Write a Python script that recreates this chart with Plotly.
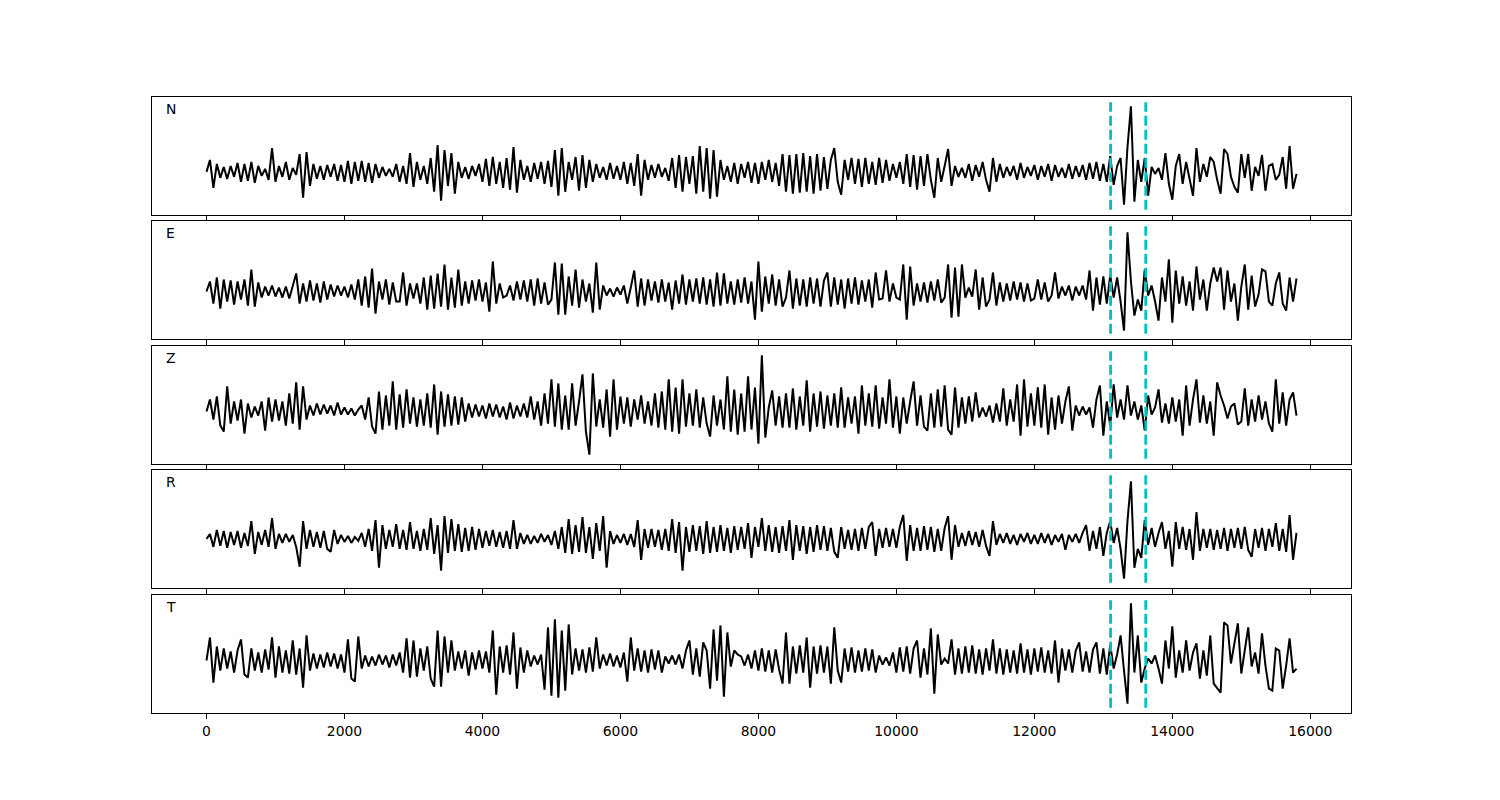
import numpy as np
import plotly.graph_objects as go

# ---------------- data ----------------
DT = 50  # sample spacing (x units)
COMPONENTS = ["N", "E", "Z", "R", "T"]

TRACE_N = [
    0, 12, -16, 8, -6, 5, -7, 6, -5, 9, -10, 8, -9, 10, -11, 6, -4, 3, -8, 24,
    -10, 6, -5, 10, -8, 4, -3, 18, -26, 20, -14, 8, -7, 6, -8, 7, -5, 8, -9, 7,
    -10, 11, -12, 10, -9, 11, -10, 9, -11, 8, -6, 5, -4, 3, -5, 8, -10, 6, -12, 19,
    -15, 10, -8, 6, -12, 14, -20, 27, -29, 22, -14, 19, -22, 10, -6, 5, -7, 6, -4, 8,
    -10, 13, -14, 15, -12, 10, -16, 14, -18, 25, -21, 12, -8, 6, -10, 9, -7, 10, -12, 11,
    -15, 22, -24, 24, -20, 10, -8, 15, -19, 17, -16, 12, -10, 8, -6, 5, -8, 9, -7, 6,
    -8, 10, -12, 9, -14, 18, -24, 12, -8, 7, -6, 8, -5, 4, -9, 14, -16, 17, -20, 15,
    -12, 16, -22, 26, -20, 24, -27, 22, -25, 12, -8, 6, -10, 9, -12, 8, -6, 10, -11, 9,
    -12, 10, -8, 12, -10, 9, -14, 18, -20, 17, -22, 18, -21, 19, -20, 16, -22, 18, -19, 15,
    -17, 12, 24, -10, -23, 12, -8, 14, -12, 13, -15, 14, -12, 10, -13, 14, -11, 12, -9, 8,
    -6, 10, -12, 18, -15, 17, -18, 16, -14, 18, -8, -26, 14, -10, 6, 23, -14, 6, -5, 4,
    -6, 8, -9, 7, -5, 10, -8, -20, 14, -10, 8, -6, 5, -4, 6, -8, 9, -6, 5, -4,
    7, -8, 6, -5, 8, -9, 7, -5, 4, -6, 8, -7, 6, -5, 7, -8, 9, -7, 10, -9,
    8, -10, 16, -13, 6, 14, -33, 25, 66, -30, 12, -10, 14, -24, 5, -2, 4, -8, 19, -12,
    -28, 6, 18, -12, 10, -8, -24, 24, -10, 8, -5, 15, 10, -8, -22, 23, 18, -5, -15, -21,
    18, -6, 18, -19, 5, -4, 17, -19, 6, 8, -8, -3, 15, -17, 26, -17, -2,
]

TRACE_E = [
    0, 10, -12, 14, -17, 12, -10, 11, -13, 10, -8, 12, -14, 22, -15, 9, -6, 5, -4, 6,
    -5, 4, -6, 5, -7, 6, 18, -12, 8, -10, 11, -9, 8, -11, 10, -8, 7, -5, 6, -4,
    5, -6, 7, -8, 12, -14, 15, -16, 23, -22, 10, -8, 12, -13, 9, -10, -10, 19, -14, 8,
    -7, 8, -12, 14, -18, 16, -17, 18, -15, 27, -18, 14, -16, 22, -14, 10, -12, 11, -9, 12,
    -10, 9, -20, 30, -12, 8, -6, -4, 6, -9, 10, -8, 11, -10, 12, -14, 13, -12, 9, -13,
    -8, 29, -23, 28, -23, 15, -14, 22, -16, 12, -10, 8, -21, 29, -18, 6, -4, 3, -5, 4,
    -3, 6, -12, 4, 21, -15, 13, -14, 12, -9, 10, -11, 12, -10, 9, -18, 11, -12, 17, -13,
    12, -10, 13, -12, 14, -13, 12, -15, 19, -14, 18, -12, 10, -13, 12, -11, 14, -12, 10, -28,
    30, -20, 15, -12, 17, -14, 12, -15, -6, 21, -17, 13, -14, 12, -15, 14, -12, 13, -15, 11,
    19, -15, 14, -13, 12, -17, 13, -12, 14, -13, 11, -10, 12, -16, 19, -8, -7, 21, -10, 8,
    -6, -8, 27, -28, 25, -14, 8, -10, 9, -11, 10, -9, 12, -11, -6, 27, -26, 24, -25, 27,
    -6, 4, -5, 22, -18, 14, -15, -8, 19, -14, 9, -10, 8, -9, 10, -8, 9, -10, 8, -9,
    -7, 12, -8, 9, -10, -4, 19, -7, 5, -4, 6, -9, 5, -4, 6, -8, 21, -19, 14, -13,
    15, -12, 16, -6, 14, -10, -39, 59, 10, -24, -8, -19, 22, -4, 6, -10, -29, 14, -10, 32,
    -31, 21, -12, 15, -14, 10, -19, 25, -8, 12, -19, 8, 24, 10, 24, -18, 21, -10, 8, -29,
    5, 27, -18, 16, -15, -3, 22, 20, -10, -14, 8, 19, -12, -19, 14, -10, 13,
]

TRACE_Z = [
    0, 12, -8, 15, -14, -20, 25, -12, 10, -9, 12, -22, 8, -6, 5, -4, 10, -19, 14, -10,
    12, -9, 10, -14, 18, -12, 29, -18, 25, -8, 6, -4, 8, -3, 7, -2, 6, -4, 9, -3,
    4, -3, 3, -4, 2, 6, -8, 14, -15, -22, 20, -18, 16, -14, 30, -18, 17, -16, 22, -12,
    14, -15, 12, -14, 18, -16, 27, -23, 20, -15, 17, -14, 15, -13, 14, -10, 8, -6, 7, -5,
    6, -7, 8, -5, 7, -6, 5, -8, 9, -7, 6, -5, 8, -6, 15, -8, 10, -14, 18, -12,
    32, -15, 28, -18, 16, -18, 28, -14, 10, 37, -20, -43, 38, -15, 12, -16, 22, -25, 32, -18,
    15, -12, 14, -15, 12, -8, 16, -12, 10, -14, 18, -16, 20, -18, 32, -20, 24, -22, 32, -15,
    18, -14, 22, -16, 14, -12, -25, 16, -14, 12, -18, 35, -20, 22, -23, 18, -20, 35, -18, 24,
    -32, 56, -26, 4, 21, -14, 15, -16, 18, -16, 23, -18, 15, -14, 31, -20, 18, -15, 20, -17,
    16, -14, 18, -16, 24, -16, 14, -12, 15, -22, 26, -14, 18, -15, 26, -17, 14, -12, 32, -16,
    15, -22, 14, -12, 10, 30, -14, 16, -15, -19, 18, -16, 22, -15, 26, -18, -23, 24, -16, 14,
    -12, 15, -10, 19, -6, 4, -5, 6, -11, 8, -10, 23, -14, 12, -10, 27, -24, 32, -15, 18,
    -14, 24, -16, 27, -23, 14, -18, 16, -12, 10, 25, -19, 6, -4, 5, -3, 4, -16, 12, 26,
    -24, 10, -14, 27, -6, 12, -8, 26, -4, 10, -8, 6, -19, 16, -3, 4, 22, -11, 8, -12,
    14, -10, 12, -24, 26, -14, 12, 32, -11, 16, -12, 10, -24, 29, 16, 6, -7, 5, 8, -13,
    -10, 23, -14, 12, -10, 16, -8, 10, -12, -20, 32, -12, 19, -14, 12, 19, -4,
]

TRACE_R = [
    0, 5, -8, 9, -7, 8, -9, 7, -6, 8, -9, 6, -7, 18, -15, 7, -6, 9, -8, 21,
    -10, 5, -4, 5, -3, 4, -8, -28, 18, -10, 9, -8, 7, -9, 8, -10, -13, 9, -5, 4,
    -3, 3, -4, 2, -2, 6, -8, 10, -12, 19, -29, 14, -10, 9, -8, 15, -10, 9, -11, 17,
    -10, 8, -12, 10, -11, 21, -15, 14, -32, 23, -14, 20, -12, 15, -13, 11, -12, 12, -11, 10,
    -9, 8, -7, 9, -8, 7, -9, 8, -10, 19, -10, 6, -5, 4, -5, 3, -4, 5, -3, 4,
    -6, 8, -10, 12, -14, 20, -15, 14, -13, 22, -14, 12, -20, 16, -12, 23, -29, 8, -5, 4,
    -4, 5, -6, 5, -8, 19, -21, 10, -9, 10, -8, 9, -11, 10, -12, 20, -14, 17, -32, 12,
    -13, 14, -12, 13, -15, 18, -14, 12, -13, 14, -12, 11, -14, 13, -11, 12, -10, 16, -19, 12,
    -8, 21, -12, 14, -13, 12, -14, 13, -12, 19, -21, 14, -12, 13, -15, 12, -13, 14, -11, 13,
    -12, 11, -13, -19, 12, -10, 9, -11, 10, -12, 11, -10, 12, 17, -17, 10, -9, 11, -8, 10,
    -9, 12, 24, -22, 14, -12, 11, -12, 13, -11, 12, -13, 10, -12, 11, 23, -21, 14, -8, 6,
    -7, 8, -6, 7, -8, 9, -7, -17, 18, -6, 5, -4, 6, -5, 4, -6, 5, -3, 6, -5,
    4, -5, 6, -4, 5, -6, 4, -3, 5, -11, 4, -3, 5, -4, 6, 14, -12, 8, -10, 12,
    -17, 6, 18, -4, 11, -10, -40, 18, 58, -29, -10, -19, 19, -6, 11, -8, 6, 17, -10, 8,
    -28, 17, -10, 12, -11, 10, -21, 27, -12, 10, -9, 10, -11, 9, -10, 11, -12, 10, -9, 11,
    -10, 12, -11, -18, 10, -9, 11, -12, 10, -8, 16, -12, 10, -13, 24, -21, 6,
]

TRACE_T = [
    0, 23, -22, 14, -10, 12, -8, 9, -12, 10, 21, -14, -17, 12, -10, 8, -12, 11, -9, 23,
    -17, 14, -12, 10, -13, 20, -14, 12, -27, 25, -10, 7, -8, 6, -7, 8, -6, 7, -8, 6,
    -12, 21, -18, -21, 24, -8, 5, -6, 4, -5, 6, -4, 5, -7, 6, -5, 8, -12, 22, -17,
    20, -16, 12, -10, 14, -18, -26, 30, -26, 24, -12, 20, -10, 9, -8, 10, -15, 8, -9, 10,
    -8, 9, -12, 30, -34, 14, -12, 15, -14, 28, -28, 13, -12, 10, -6, 5, -4, 6, -29, 33,
    -35, 41, -37, 30, -30, 36, -14, 12, -10, 11, -12, 13, -11, 23, -8, 6, -5, 7, -6, 5,
    -7, 8, -21, 23, -10, 12, -11, 10, -12, 11, -9, 10, -12, 4, -3, 5, -4, 6, -8, 10,
    20, -14, 12, -16, 18, 10, -28, 31, -20, 35, -36, 28, -6, 10, 6, 4, -5, 6, -8, 10,
    -10, 12, -11, 10, -12, 11, -9, -23, 28, -23, 14, -13, 15, -12, 23, -27, 14, -13, 15, -12,
    14, -23, 33, -10, -22, 12, -11, 13, -12, 10, -11, 12, -10, 11, -12, 5, -4, 3, -5, 8,
    -12, 13, -11, 14, -13, 12, 20, -17, 12, -14, 32, -33, 26, -4, 2, -3, 21, -14, 12, -13,
    14, -12, 15, -13, 11, -14, 12, -10, 21, -13, 12, -14, 11, -12, 10, -13, 17, -12, 11, -14,
    12, -11, 13, -12, 10, -13, 20, -22, 12, -10, 11, -12, 10, 18, -11, 9, -12, 11, 18, -13,
    12, -14, 16, -8, 6, 25, -10, -43, 57, -12, 25, -22, -8, 2, -3, 5, -8, -23, 20, -8,
    34, -17, 10, -12, 20, -10, 8, 17, -18, 10, -15, 25, -23, -28, -32, 38, 35, -3, 17, 37,
    -13, 10, 33, -6, 8, -13, 27, -5, -28, -30, 12, 10, -28, -5, 22, -12, -8,
]

TRACES = [TRACE_N, TRACE_E, TRACE_Z, TRACE_R, TRACE_T]

PICK_TIMES = [13105, 13615]           # dashed marker times
VLINE_LO = [-38, -42, -47, -44, -47]  # lower end of marker lines per panel
VLINE_HI = [70, 65, 60, 64, 60]       # upper end of marker lines per panel
X_TICKS = [0, 2000, 4000, 6000, 8000, 10000, 12000, 14000, 16000]

# ---------------- figure ----------------
FONT = "DejaVu Sans"
fig = go.Figure()

# panel domains (top to bottom)
DOMAINS = [
    [0.80844, 1.0],
    [0.60714, 0.79870],
    [0.40422, 0.59578],
    [0.20292, 0.39448],
    [0.0, 0.19156],
]

n_max = max(len(t) for t in TRACES)
xmax = (n_max - 1) * DT
xpad = 0.05 * xmax
xrange = [-xpad, xmax + xpad]

layout = dict(
    width=1500, height=800,
    margin=dict(l=144, r=157, t=89, b=95),
    plot_bgcolor="white", paper_bgcolor="white",
    showlegend=False,
    font=dict(family=FONT, size=14, color="black"),
    annotations=[],
)

for i, (name, tr) in enumerate(zip(COMPONENTS, TRACES)):
    sfx = "" if i == 0 else str(i + 1)
    xs = np.arange(len(tr)) * DT
    fig.add_trace(go.Scatter(
        x=xs, y=tr, mode="lines",
        line=dict(color="black", width=2),
        xaxis="x" + sfx, yaxis="y" + sfx, hoverinfo="skip",
    ))
    for t in PICK_TIMES:
        fig.add_trace(go.Scatter(
            x=[t, t], y=[VLINE_LO[i], VLINE_HI[i]], mode="lines",
            line=dict(color="#00BFBF", width=2.8, dash="10px,4px"),
            xaxis="x" + sfx, yaxis="y" + sfx, hoverinfo="skip",
        ))
    lo, hi = VLINE_LO[i], VLINE_HI[i]
    span = hi - lo
    layout["xaxis" + sfx] = dict(
        domain=[0, 1], anchor="y" + sfx, range=xrange,
        tickvals=X_TICKS, ticktext=[str(v) for v in X_TICKS],
        ticks="outside", ticklen=5, tickwidth=1, tickcolor="black",
        showticklabels=(i == len(TRACES) - 1),
        tickfont=dict(family=FONT, size=13.9, color="black"),
        showline=True, linecolor="black", linewidth=1, mirror=True,
        showgrid=False, zeroline=False,
    )
    layout["yaxis" + sfx] = dict(
        domain=DOMAINS[i], anchor="x" + sfx,
        range=[lo - 0.05 * span, hi + 0.05 * span],
        showticklabels=False, ticks="",
        showline=True, linecolor="black", linewidth=1, mirror=True,
        showgrid=False, zeroline=False,
    )
    layout["annotations"].append(dict(
        text=name, xref="x" + sfx + " domain", yref="y" + sfx + " domain",
        x=0.01, y=0.9, xanchor="left", yanchor="middle", showarrow=False,
        font=dict(family=FONT, size=13.9, color="black"),
    ))

fig.update_layout(**layout)
fig.write_html("out.html")
